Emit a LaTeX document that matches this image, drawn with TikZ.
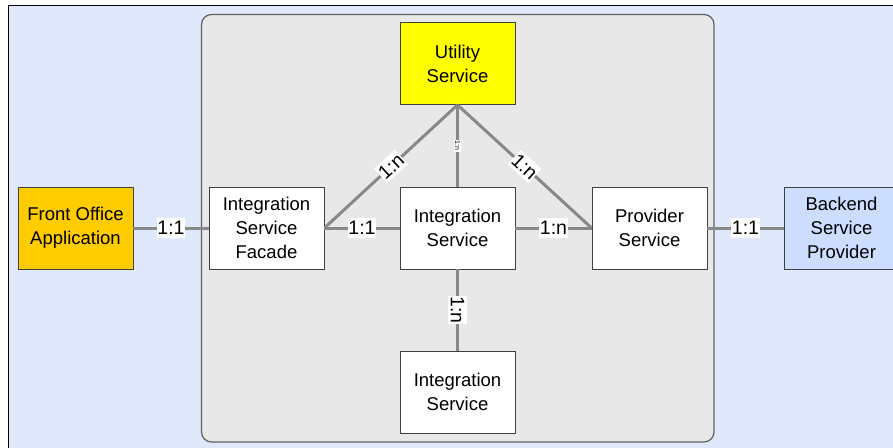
\documentclass[tikz,border=0pt]{standalone}
\usepackage{fontspec}
\setmainfont{Liberation Sans}
\definecolor{bgblue}{HTML}{E0E8FC}
\definecolor{panel}{HTML}{E8E8E8}
\definecolor{panelline}{HTML}{606060}
\definecolor{conn}{HTML}{888888}
\definecolor{foyellow}{HTML}{FFCC00}
\definecolor{utilyellow}{HTML}{FFFF00}
\definecolor{beblue}{HTML}{CCDDFF}
\definecolor{boxline}{HTML}{404040}
\tikzset{
  svcbox/.style={draw=boxline, line width=0.8pt, fill=white, minimum width=115pt, minimum height=82pt,
    inner sep=0pt, align=center, font=\fontsize{18.5}{24}\selectfont},
  link/.style={draw=conn, line width=3pt},
  card/.style={fill=white, inner xsep=0.5pt, inner ysep=3pt, font=\fontsize{19.5}{22}\selectfont, midway},
  tinycard/.style={fill=white, inner xsep=1pt, inner ysep=1.5pt, font=\fontsize{7}{8}\selectfont, midway, sloped}
}
\begin{document}
\begin{tikzpicture}[x=1pt,y=-1pt]
\clip (0,0) rectangle (893,447);
\fill[bgblue, draw=black, line width=1pt] (8,5) rectangle (900,452);
\draw[fill=panel, draw=panelline, line width=1.2pt, rounded corners=10pt] (201.5,14.5) rectangle (714,442);

\node[svcbox, fill=foyellow] (fo) at (75.5,228) {Front Office\\Application};
\node[svcbox] (isf) at (266.5,228) {Integration\\Service\\Facade};
\node[svcbox] (is) at (457.5,228) {Integration\\Service};
\node[svcbox] (prov) at (649.5,228) {Provider\\Service};
\node[svcbox, fill=beblue] (be) at (841.5,228) {Backend\\Service\\Provider};
\node[svcbox, fill=utilyellow] (util) at (457.5,63.5) {Utility\\Service};
\node[svcbox] (isb) at (457.5,392) {Integration\\Service};

\path[link] (fo) -- (isf) node[card] (l1) {1:1};
\path[link] (isf) -- (is) node[card] (l2) {1:1};
\path[link] (is) -- (prov) node[card] (l3) {1:n};
\path[link] (prov) -- (be) node[card] (l4) {1:1};
\path[link] (util.south) -- (isf.east) node[card, sloped] (l5) {1:n};
\path[link] (util.south) -- (prov.west) node[card, sloped] (l6) {1:n};
\path[link] (util.south) -- (is.north) node[tinycard] (l7) {1:n};
\path[link] (is.south) -- (isb.north) node[card, sloped] (l8) {1:n};
\end{tikzpicture}
\end{document}
